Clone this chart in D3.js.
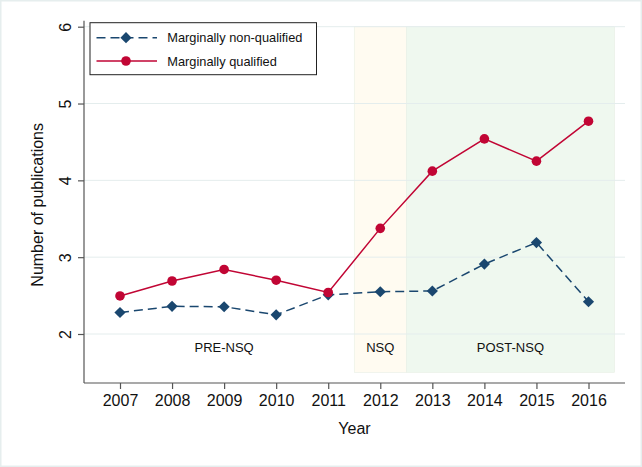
<!DOCTYPE html>
<html>
<head>
<meta charset="utf-8">
<script src="https://cdn.jsdelivr.net/npm/d3@7.9.0/dist/d3.min.js"></script>
<style>
  body { margin: 0; background: #fff; }
  svg text { font-family: "Liberation Sans", Arial, Helvetica, sans-serif; }
</style>
</head>
<body>
<svg id="chart" width="642" height="467"></svg>
<script>
const years = [2007, 2008, 2009, 2010, 2011, 2012, 2013, 2014, 2015, 2016];
const nonQualified = [2.28, 2.36, 2.355, 2.25, 2.51, 2.55, 2.56, 2.91, 3.19, 2.42];
const qualified = [2.495, 2.69, 2.84, 2.70, 2.54, 3.375, 4.12, 4.54, 4.25, 4.77];
const yTicks = [2, 3, 4, 5, 6];
const periods = [
  { label: 'PRE-NSQ', from: null, to: null, at: 2009 },
  { label: 'NSQ', from: 2011.5, to: 2012.5, at: 2012, fill: '#fffbf1' },
  { label: 'POST-NSQ', from: 2012.5, to: 2016.5, at: 2014.5, fill: '#eff8ef' }
];

const width = 642, height = 467;
const svg = d3.select('#chart');

// graph region border
svg.append('rect')
  .attr('x', 0.75).attr('y', 0.75)
  .attr('width', width - 1.5).attr('height', height - 1.5)
  .attr('fill', '#fff')
  .attr('stroke', '#e6eeee')
  .attr('stroke-width', 1.5);

const x = d3.scaleLinear().domain([2007, 2016]).range([120, 588.5]);
const y = d3.scaleLinear().domain([2, 6]).range([334, 26.7]);
const axisLeftX = 84, axisBottomY = 383, gridRight = 625;

// shaded periods
svg.append('g').selectAll('rect')
  .data(periods.filter(p => p.from !== null))
  .join('rect')
    .attr('x', d => x(d.from))
    .attr('width', d => x(d.to) - x(d.from))
    .attr('y', y(6))
    .attr('height', y(1.5) - y(6))
    .attr('fill', d => d.fill)
    .attr('stroke', '#e8efe4')
    .attr('stroke-width', 0.6);

// gridlines
svg.append('g').selectAll('line')
  .data(yTicks)
  .join('line')
    .attr('x1', axisLeftX).attr('x2', gridRight)
    .attr('y1', d => y(d)).attr('y2', d => y(d))
    .attr('stroke', '#e4eded')
    .attr('stroke-width', 1);

// y axis
const yAxis = svg.append('g')
  .attr('transform', `translate(${axisLeftX},0)`)
  .call(d3.axisLeft(y).tickValues(yTicks).tickSize(6).tickPadding(0).tickFormat(d3.format('d')));
yAxis.attr('font-family', null).attr('font-size', null);
yAxis.select('.domain').attr('d', `M0,${y(6) - 6}V${axisBottomY}`);
yAxis.selectAll('path, line').attr('stroke', '#555').attr('stroke-width', 1.2);
yAxis.selectAll('text')
  .attr('font-size', 16)
  .attr('fill', '#111')
  .attr('text-anchor', 'middle')
  .attr('dy', null)
  .attr('transform', 'translate(-19,0) rotate(-90)')
  .attr('x', 0)
  .attr('y', 5.8);

// x axis
const xAxis = svg.append('g')
  .attr('transform', `translate(0,${axisBottomY})`)
  .call(d3.axisBottom(x).tickValues(years).tickSize(6).tickPadding(6).tickFormat(d3.format('d')));
xAxis.attr('font-family', null).attr('font-size', null);
xAxis.select('.domain').attr('d', `M${axisLeftX},0H${gridRight}`);
xAxis.selectAll('path, line').attr('stroke', '#555').attr('stroke-width', 1.2);
xAxis.selectAll('text').attr('font-size', 16).attr('fill', '#111');

// axis titles
svg.append('text')
  .attr('transform', `translate(43,${(y(6) + axisBottomY) / 2}) rotate(-90)`)
  .attr('text-anchor', 'middle')
  .attr('font-size', 16)
  .attr('fill', '#111')
  .text('Number of publications');
svg.append('text')
  .attr('x', (axisLeftX + gridRight) / 2)
  .attr('y', 434)
  .attr('text-anchor', 'middle')
  .attr('font-size', 16)
  .attr('fill', '#111')
  .text('Year');

// period labels
svg.append('g').selectAll('text')
  .data(periods)
  .join('text')
    .attr('x', d => x(d.at))
    .attr('y', 352)
    .attr('text-anchor', 'middle')
    .attr('font-size', 13)
    .attr('fill', '#111')
    .text(d => d.label);

const line = d3.line().x((d, i) => x(years[i])).y(d => y(d));
const blue = '#1a476f', red = '#c10534';
const diamond = d3.symbol().type(d3.symbolDiamond2).size(80);

// non-qualified series
svg.append('path')
  .datum(nonQualified)
  .attr('d', line)
  .attr('fill', 'none')
  .attr('stroke', blue)
  .attr('stroke-width', 1.5)
  .attr('stroke-dasharray', '9,5');
svg.append('g').selectAll('path')
  .data(nonQualified)
  .join('path')
    .attr('d', diamond)
    .attr('transform', (d, i) => `translate(${x(years[i])},${y(d)})`)
    .attr('fill', blue);

// qualified series
svg.append('path')
  .datum(qualified)
  .attr('d', line)
  .attr('fill', 'none')
  .attr('stroke', red)
  .attr('stroke-width', 1.5);
svg.append('g').selectAll('circle')
  .data(qualified)
  .join('circle')
    .attr('cx', (d, i) => x(years[i]))
    .attr('cy', d => y(d))
    .attr('r', 4.8)
    .attr('fill', red);

// legend
const legend = svg.append('g');
legend.append('rect')
  .attr('x', 90).attr('y', 22.7)
  .attr('width', 226.5).attr('height', 52)
  .attr('fill', '#fff')
  .attr('stroke', '#222')
  .attr('stroke-width', 1);
const entries = [
  { label: 'Marginally non-qualified', color: blue, dash: '9,5', mark: 'diamond', cy: 37.7 },
  { label: 'Marginally qualified', color: red, dash: null, mark: 'circle', cy: 61 }
];
entries.forEach(e => {
  legend.append('line')
    .attr('x1', 96.5).attr('x2', 157)
    .attr('y1', e.cy).attr('y2', e.cy)
    .attr('stroke', e.color)
    .attr('stroke-width', 1.5)
    .attr('stroke-dasharray', e.dash);
  if (e.mark === 'diamond') {
    legend.append('path').attr('d', diamond)
      .attr('transform', `translate(126,${e.cy})`).attr('fill', e.color);
  } else {
    legend.append('circle').attr('cx', 126).attr('cy', e.cy).attr('r', 4.8).attr('fill', e.color);
  }
  legend.append('text')
    .attr('x', 167.3).attr('y', e.cy + 4.6)
    .attr('font-size', 12.8)
    .attr('fill', '#111')
    .text(e.label);
});
</script>
</body>
</html>
